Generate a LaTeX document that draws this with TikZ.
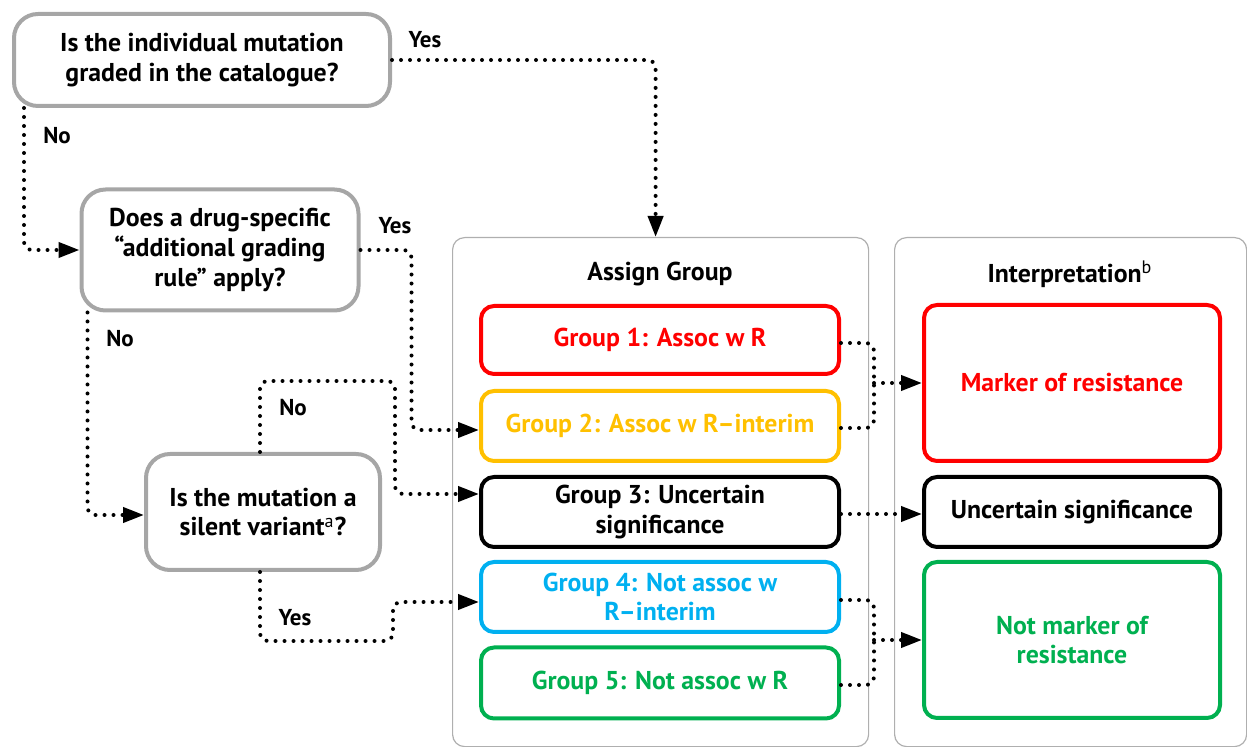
\documentclass[tikz,border=0pt]{standalone}
\usepackage{fontspec}
\setmainfont{PT Sans}
\usetikzlibrary{arrows.meta, positioning, calc}
\definecolor{QuestRule}{RGB}{166,166,166}
\definecolor{PanelRule}{RGB}{175,175,175}
\definecolor{GrpRed}{RGB}{255,0,0}
\definecolor{GrpAmber}{RGB}{255,192,0}
\definecolor{GrpBlue}{RGB}{0,176,240}
\definecolor{GrpGreen}{RGB}{0,176,80}

\begin{document}
\begin{tikzpicture}[
  x=0.5pt, y=-0.5pt,
  every node/.style={font=\fontsize{12.9}{14.8}\selectfont\bfseries},
  question/.style={draw=QuestRule, line width=2pt, rounded corners=12pt,
                   align=center, inner sep=0pt},
  panel/.style={draw=PanelRule, line width=0.6pt, rounded corners=6pt,
                anchor=north west, inner sep=0pt},
  paneltitle/.style={font=\fontsize{12.9}{14.8}\selectfont\bfseries},
  grp/.style={draw=#1, text=#1, line width=2pt, rounded corners=6.5pt,
              minimum width=179pt, align=center, inner sep=0pt},
  answer/.style={font=\fontsize{11.5}{13}\selectfont\bfseries},
  link/.style={line width=2pt, dash pattern=on 0pt off 4.5pt, line cap=round,
               rounded corners=4pt, -{Triangle[length=10.5pt, width=7.5pt]}},
  nolink/.style={line width=2pt, dash pattern=on 0pt off 4.5pt, line cap=round,
                 rounded corners=4pt}
]
\useasboundingbox (0,0) rectangle (1247,747);

% panels
\node[panel, minimum width=208pt, minimum height=254.5pt] (assign) at (452,237) {};
\node[panel, minimum width=176pt, minimum height=254.5pt] (interp) at (894,237) {};
\node[paneltitle] (assignt) at (660,274) {Assign Group};
\node[paneltitle] (interpt) at (1070,274) {Interpretation\textsuperscript{\mdseries b}};

% questions
\node[question, minimum width=188pt, minimum height=46pt] (q1) at (202,60)
  {Is the individual mutation\\graded in the catalogue?};
\node[question, minimum width=138.5pt, minimum height=60.5pt] (q2) at (220,250)
  {Does a drug-specific\\“additional grading\\rule” apply?};
\node[question, minimum width=117pt, minimum height=58pt] (q3) at (263,512)
  {Is the mutation a\\silent variant\textsuperscript{\mdseries a}?};

% groups
\node[grp=GrpRed,   minimum height=34pt] (g1) at (660,340) {Group 1: Assoc w R};
\node[grp=GrpAmber, minimum height=35pt] (g2) at (660,426) {Group 2: Assoc w R--interim};
\node[grp=black,    minimum height=35pt] (g3) at (660,512) {Group 3: Uncertain\\significance};
\node[grp=GrpBlue,  minimum height=35pt] (g4) at (660,597) {Group 4: Not assoc w\\R--interim};
\node[grp=GrpGreen, minimum height=35.5pt] (g5) at (660,683) {Group 5: Not assoc w R};

% interpretation
\node[grp=GrpRed,   minimum width=148pt, minimum height=78pt] (i1) at (1072,383) {Marker of resistance};
\node[grp=black,    minimum width=148pt, minimum height=35pt] (i2) at (1072,512) {Uncertain significance};
\node[grp=GrpGreen, minimum width=148pt, minimum height=78pt] (i3) at (1072,640) {Not marker of\\resistance};

% answers
\node[answer] (a1) at (425,40) {Yes};
\node[answer] (a2) at (57,136) {No};
\node[answer] (a3) at (395,226) {Yes};
\node[answer] (a4) at (120,339) {No};
\node[answer] (a5) at (293,408) {No};
\node[answer] (a6) at (295,618) {Yes};

% decision links
\draw[link] (q1.east) -| ([xshift=-2.5pt]assign.north);
\draw[link] ([xshift=6pt]q1.south west) |- (q2.west);
\draw[link] (q2.east) -- ++(51,0) |- ([yshift=-2pt]g2.west);
\draw[link] ([xshift=4pt]q2.south west) |- ([yshift=-1.5pt]q3.west);
\draw[link] ([xshift=-1.5pt]q3.north) -- ++(0,-71) -- ++(135,0) |- ([yshift=9pt]g3.west);
\draw[link] ([xshift=-1.5pt]q3.south) -- ++(0,69) -- ++(133,0) |- ([yshift=-2.5pt]g4.west);

% group to interpretation
\coordinate (j1) at ($(g1.east |- i1.west)+(33,0)$);
\coordinate (j3) at ($(g4.east |- i3.west)+(33,0)$);
\draw[nolink] ([yshift=-1.5pt]g1.east) -| (j1);
\draw[nolink] ([yshift=-1pt]g2.east) -| (j1);
\draw[link] (j1) -- (i1.west);
\draw[link] ([yshift=-1pt]g3.east) -- ([yshift=-1pt]i2.west);
\draw[nolink] ([yshift=-1.5pt]g4.east) -| (j3);
\draw[nolink] ([yshift=-1pt]g5.east) -| (j3);
\draw[link] (j3) -- (i3.west);
\end{tikzpicture}
\end{document}
